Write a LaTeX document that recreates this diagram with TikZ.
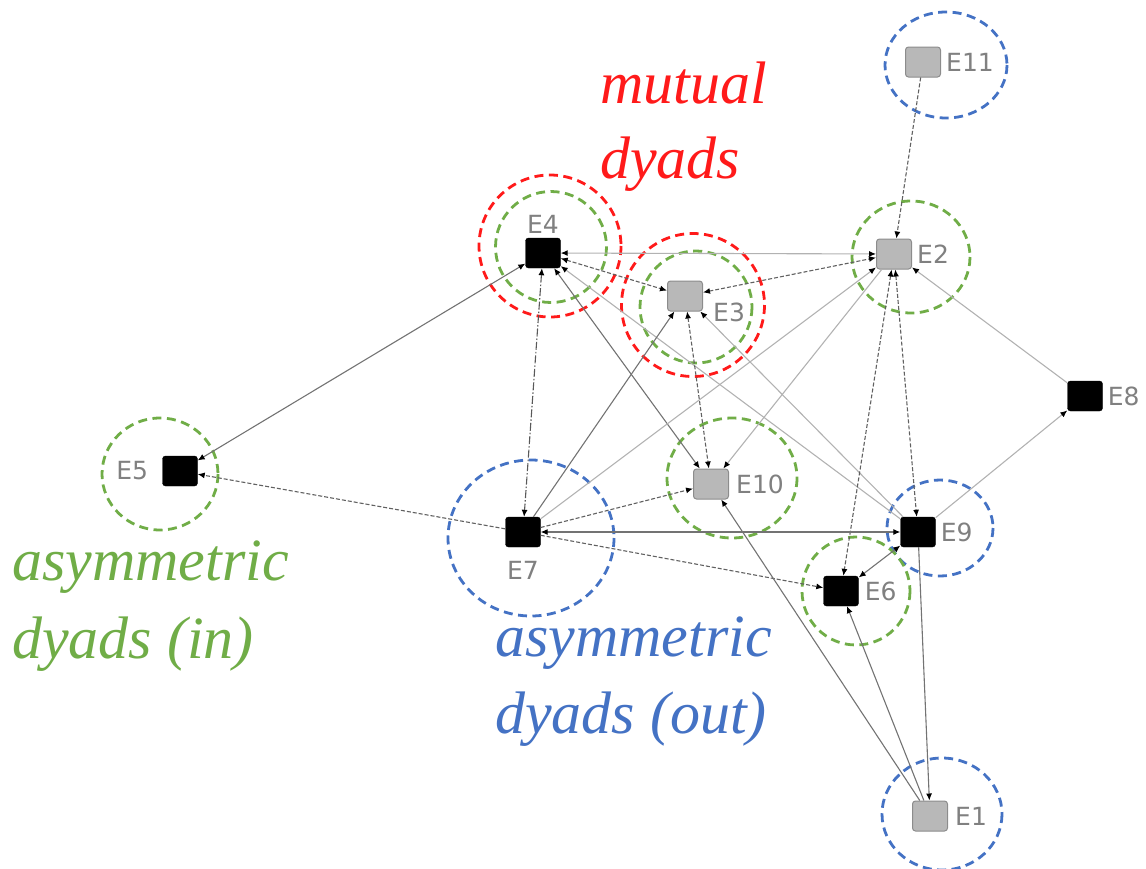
\documentclass[tikz,border=0pt]{standalone}
\usepackage{fontspec}
\setmainfont{Liberation Serif}
\newfontfamily\labelfont{DejaVu Sans}
\usetikzlibrary{arrows.meta}

\definecolor{ringred}{HTML}{FF1A1A}
\definecolor{ringgreen}{HTML}{70AD47}
\definecolor{ringblue}{HTML}{4472C4}

\tikzset{
  ent/.style={rectangle, rounded corners=3pt, minimum width=35pt, minimum height=30pt, inner sep=0pt},
  blk/.style={ent, fill=black, draw=black},
  gry/.style={ent, fill=black!28, draw=black!45, line width=1pt},
  lbl/.style={text=black!50, font=\labelfont\fontsize{25}{25}\selectfont, inner sep=1pt, label distance=4pt},
  ring/.style={line width=2.8pt, dash pattern=on 9pt off 5.5pt},
  link/.style={draw=black!55, line width=1.1pt},
  lightlink/.style={draw=black!30, line width=1.1pt},
  dlink/.style={draw=black!62, line width=1.1pt, dash pattern=on 4pt off 2pt},
  ddlink/.style={draw=black!65, line width=1.1pt, dash pattern=on 8pt off 2pt on 1.5pt off 2pt},
  arr/.style={-{Latex[length=7pt,width=6pt,color=black]}},
  arrs/.style={{Latex[length=7pt,width=6pt,color=black]}-{Latex[length=7pt,width=6pt,color=black]}},
  note/.style={font=\itshape\fontsize{60}{60}\selectfont, anchor=base west, inner sep=0pt}
}

\begin{document}
\begin{tikzpicture}[x=1pt,y=-1pt]
  \useasboundingbox (0,0) rectangle (1146,868);

  %% rings
  \draw[ring, ringred] (550,246) circle (71);
  \draw[ring, ringgreen] (551,247) circle (55.5);
  \draw[ring, ringred] (693,305) circle (71.5);
  \draw[ring, ringgreen] (696,307) circle (56);
  \draw[ring, ringgreen] (911,257) ellipse [x radius=59, y radius=56];
  \draw[ring, ringblue] (946,65) ellipse [x radius=61, y radius=53];
  \draw[ring, ringgreen] (160,474) ellipse [x radius=58, y radius=56];
  \draw[ring, ringblue] (531,538) ellipse [x radius=83, y radius=78];
  \draw[ring, ringgreen] (732,478) ellipse [x radius=65, y radius=60];
  \draw[ring, ringblue] (940,528) ellipse [x radius=53, y radius=48];
  \draw[ring, ringgreen] (856,591) circle (54);
  \draw[ring, ringblue] (942,814) ellipse [x radius=60, y radius=56];

  %% entities
  \node[gry, label={[lbl]right:E11}] (E11) at (923,62) {};
  \node[blk, label={[lbl,label distance=3pt]above:E4}] (E4) at (543,253) {};
  \node[gry, label={[lbl,label distance=9pt,yshift=-16pt]right:E3}] (E3) at (685,296) {};
  \node[gry, label={[lbl]right:E2}] (E2) at (894,254) {};
  \node[blk, label={[lbl]right:E8}] (E8) at (1085,396) {};
  \node[blk, label={[lbl,label distance=13pt]left:E5}] (E5) at (180,471) {};
  \node[gry, label={[lbl,label distance=6pt]right:E10}] (E10) at (711,484) {};
  \node[blk, label={[lbl,label distance=13pt]below:E7}] (E7) at (523,532) {};
  \node[blk, label={[lbl]right:E9}] (E9) at (918,532) {};
  \node[blk, label={[lbl,label distance=5pt]right:E6}] (E6) at (841,591) {};
  \node[gry, label={[lbl,label distance=6pt]right:E1}] (E1) at (930,816) {};

  %% ties
  \draw[dlink, arr] (E11) -- (E2);
  \draw[link, arrs] (E4) -- (E5);
  \draw[dlink, arr] (E7) -- (E5);
  \draw[ddlink, arrs] (E4) -- (E7);
  \draw[dlink, arrs] (E4) -- (E3);
  \draw[lightlink, arrs] (E4) -- (E2);
  \draw[dlink, arrs] (E3) -- (E2);
  \draw[link, arrs] (E4) -- (E10);
  \draw[lightlink, arr] (E9) -- (E4);
  \draw[dlink, arrs] (E3) -- (E10);
  \draw[link, arr] (E7) -- (E3);
  \draw[lightlink, arr] (E9) -- (E3);
  \draw[lightlink, arr] (E7) -- (E2);
  \draw[lightlink, arr] (E2) -- (E10);
  \draw[dlink, arrs] (E2) -- (E6);
  \draw[dlink, arrs] (E2) -- (E9);
  \draw[lightlink, arr] (E8) -- (E2);
  \draw[lightlink, arr] (E9) -- (E8);
  \draw[link, arrs] (E7) -- (E9);
  \draw[dlink, arr] (E7) -- (E6);
  \draw[dlink, arr] (E7) -- (E10);
  \draw[link, arr] (E1) -- (E10);
  \draw[link, arr] (E1) -- (E6);
  \draw[link, arr] (E9) -- (E1);
  \draw[link, arrs] (E9) -- (E6);

  %% notes
  \node[note, ringred] (mut1) at (600,103) {mutual};
  \node[note, ringred] (mut2) at (600,178) {dyads};
  \node[note, ringgreen] (ain1) at (12,580) {asymmetric};
  \node[note, ringgreen] (ain2) at (12,658) {dyads (in)};
  \node[note, ringblue] (aout1) at (495,656) {asymmetric};
  \node[note, ringblue] (aout2) at (495,733) {dyads (out)};
\end{tikzpicture}
\end{document}
